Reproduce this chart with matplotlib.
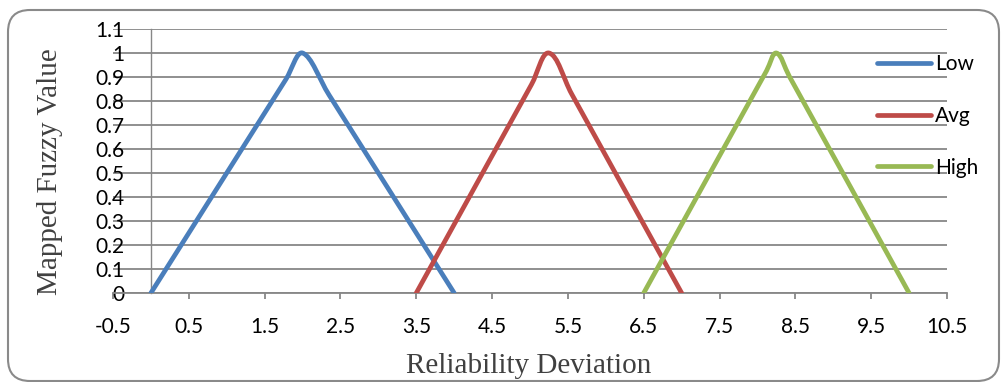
import numpy as np
import matplotlib
matplotlib.use("Agg")
import matplotlib.pyplot as plt
from matplotlib.path import Path
from matplotlib.patches import PathPatch, FancyBboxPatch
from matplotlib.lines import Line2D

# ------------------------------------------------------------
# Datos
# ------------------------------------------------------------

low_x = [0.0, 1.78, 2.0, 2.35, 4.0]
low_y = [0.0, 0.89, 1.0, 0.825, 0.0]

avg_x = [3.5, 5.02, 5.25, 5.55, 7.0]
avg_y = [0.0, 0.869, 1.0, 0.829, 0.0]

high_x = [6.5, 8.12, 8.25, 8.42, 10.0]
high_y = [0.0, 0.926, 1.0, 0.903, 0.0]

series_names = ["Low", "Avg", "High"]
series_colors = ["#4A7EBB", "#BE4B48", "#98B954"]

x_ticks = [-0.5, 0.5, 1.5, 2.5, 3.5, 4.5, 5.5, 6.5, 7.5, 8.5, 9.5, 10.5]
x_tick_labels = ["-0.5", "0.5", "1.5", "2.5", "3.5", "4.5", "5.5",
                 "6.5", "7.5", "8.5", "9.5", "10.5"]
y_ticks = [0, 0.1, 0.2, 0.3, 0.4, 0.5, 0.6, 0.7, 0.8, 0.9, 1.0, 1.1]
y_tick_labels = ["0", "0.1", "0.2", "0.3", "0.4", "0.5", "0.6",
                 "0.7", "0.8", "0.9", "1", "1.1"]

x_label = "Reliability Deviation"
y_label = "Mapped Fuzzy Value"

GRID = "#878787"
TICK_FONT = ["Lato", "DejaVu Sans"]
SERIF_FONT = ["Liberation Serif", "DejaVu Serif"]

# escala aproximada de los ejes (px por unidad)
PX_X = 75.8
PX_Y = 240.0


def smooth_path(xs, ys, k_side=0.38, k_peak=0.2):
    """Curva suavizada tipo Excel (tangentes Catmull-Rom, Bezier cúbica)."""
    pts = np.column_stack([xs, ys]).astype(float)
    scale = np.array([PX_X, PX_Y])
    n = len(pts)
    tang, kk = [], []
    for i in range(n):
        d = (pts[min(i + 1, n - 1)] - pts[max(i - 1, 0)]) * scale
        tang.append(d / np.linalg.norm(d))
        kk.append(k_peak if pts[i, 1] == max(ys) else k_side)
    verts = [pts[0]]
    codes = [Path.MOVETO]
    for i in range(n - 1):
        p1 = pts[i] * scale
        p2 = pts[i + 1] * scale
        seg = np.linalg.norm(p2 - p1)
        c1 = (p1 + tang[i] * seg * kk[i]) / scale
        c2 = (p2 - tang[i + 1] * seg * kk[i + 1]) / scale
        verts += [c1, c2, pts[i + 1]]
        codes += [Path.CURVE4] * 3
    return Path(verts, codes)


fig = plt.figure(figsize=(10.04, 3.82), dpi=100)
ax = fig.add_axes([113 / 1004, 89 / 382, (947 - 113) / 1004, (293 - 29) / 382])

# la posición del spine reinicia los ticks: primero esto
for side in ["top", "right"]:
    ax.spines[side].set_visible(False)
ax.spines["bottom"].set_color(GRID)
ax.spines["bottom"].set_linewidth(1.3)
ax.spines["left"].set_position(("data", 0))
ax.spines["left"].set_color(GRID)
ax.spines["left"].set_linewidth(1.0)

ax.set_xlim(-0.5, 10.5)
ax.set_ylim(0, 1.1)

ax.set_yticks(y_ticks)
ax.set_yticklabels(y_tick_labels, family=TICK_FONT, fontsize=15)
ax.set_xticks(x_ticks)
ax.set_xticklabels(x_tick_labels, family=TICK_FONT, fontsize=15)

ax.grid(axis="y", color=GRID, lw=1.3)
ax.set_axisbelow(True)

ax.tick_params(axis="y", length=0, pad=19, colors="black")
ax.tick_params(axis="x", direction="out", length=4, width=1.3,
               color=GRID, pad=13, labelcolor="black")

series = [(low_x, low_y), (avg_x, avg_y), (high_x, high_y)]
handles = []
for (xs, ys), name, color in zip(series, series_names, series_colors):
    patch = PathPatch(smooth_path(xs, ys), fill=False, edgecolor=color,
                      lw=3.4, capstyle="round", joinstyle="round", zorder=3)
    ax.add_patch(patch)
    handles.append(Line2D([], [], color=color, lw=3.4,
                          solid_capstyle="round"))

fig.legend(handles, series_names, loc="upper left",
           bbox_to_anchor=(877 / 1004, 1 - 54 / 382),
           frameon=False, borderpad=0, borderaxespad=0,
           handlelength=2.6, handletextpad=0.2, labelspacing=1.53,
           prop={"family": TICK_FONT, "size": 15})

fig.text(529 / 1004, 9 / 382, x_label, ha="center", va="baseline",
         family=SERIF_FONT, fontsize=21, color="#404040")
fig.text(50 / 1004, 1 - 172 / 382, y_label, ha="center", va="center",
         rotation=90, family=SERIF_FONT, fontsize=21, color="#404040")

border = FancyBboxPatch((0.08, 0.01), 9.91, 3.71,
                        boxstyle="round,pad=0,rounding_size=0.22",
                        transform=fig.dpi_scale_trans, fill=False,
                        edgecolor="#8a8a8a", lw=1.5)
fig.patches.append(border)

fig.savefig("out.png", dpi=100)
